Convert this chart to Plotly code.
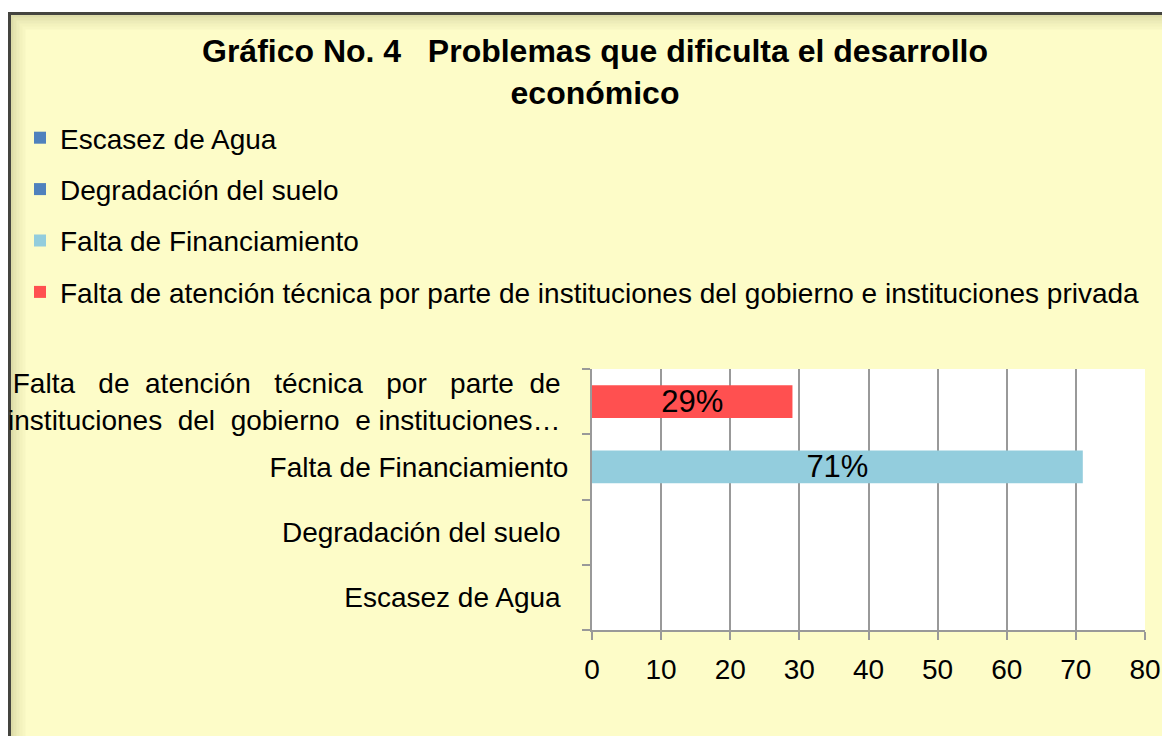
import plotly.graph_objects as go

categories = ["Escasez de Agua", "Degradación del suelo", "Falta de Financiamiento",
              "Falta de atención técnica por parte de instituciones del gobierno e instituciones privada"]
values = [0, 0, 71, 29]
colors = ["#4F81BD", "#4F81BD", "#93CDDD", "#FF5050"]
tick_labels = ["Escasez de Agua&nbsp;", "Degradación del suelo&nbsp;", "Falta de Financiamiento",
               "Falta&nbsp;&nbsp; de&nbsp; atención&nbsp;&nbsp; técnica&nbsp;&nbsp; por&nbsp;&nbsp; parte&nbsp; de&nbsp;<br>"
               "instituciones&nbsp; del&nbsp; gobierno&nbsp; e instituciones…&nbsp;"]
x_ticks = [0, 10, 20, 30, 40, 50, 60, 70, 80]

# the page body has an 8px margin; the figure is sized to fill the rest of the window
OFF = 8
W, H = 1170 - OFF, 736 - OFF
L, R, T, B = 592 - OFF, 25, 369 - OFF, 106
pw, ph = W - L - R, H - T - B

def px(x_page):
    return (x_page - OFF - L) / pw

def py(y_page):
    return (H - B - (y_page - OFF)) / ph

fig = go.Figure()
for cat, v, c in zip(categories, values, colors):
    fig.add_trace(go.Bar(
        y=[cat], x=[v], orientation="h", name=cat, marker_color=c,
        marker_line_width=0, width=0.5, legendgroup=cat,
        text=[f"{v}%" if v else ""], textposition="inside",
        insidetextanchor="middle", textangle=0,
        textfont=dict(size=31, color="black"), cliponaxis=False,
    ))

shapes = [
    dict(type="rect", xref="paper", yref="paper", x0=px(0), x1=px(1200), y0=py(0), y1=py(12),
         fillcolor="white", line_width=0, layer="below"),
]
# soft inner shading along top/left edges
for i, a in enumerate([0.22, 0.16, 0.11, 0.07, 0.04]):
    d = 3 + i * 3
    shapes.append(dict(type="rect", xref="paper", yref="paper", x0=px(9 + d), x1=px(1190),
                       y0=py(13 + d), y1=py(760), fillcolor="rgba(0,0,0,0)",
                       line=dict(color=f"rgba(110,110,60,{a})", width=3), layer="below"))
shapes.append(dict(type="rect", xref="paper", yref="paper", x0=px(9.5), x1=px(1190), y0=py(13.5), y1=py(760),
                   fillcolor="rgba(0,0,0,0)", line=dict(color="#44443f", width=3), layer="below"))

fig.update_layout(
    width=W, height=H,
    margin=dict(l=L, r=R, t=T, b=B, pad=0, autoexpand=False),
    paper_bgcolor="#FDFCC8", plot_bgcolor="white",
    font=dict(family="Liberation Sans, Arial, sans-serif", color="black"),
    title=dict(text="<b>Gráfico No. 4   Problemas que dificulta el desarrollo<br>económico</b>",
               x=(595 - OFF) / W, xanchor="center", xref="container", y=1 - 54 / H, yanchor="top",
               yref="container", font=dict(size=32, color="black")),
    barmode="relative",
    showlegend=True,
    legend=dict(x=12 / W, xanchor="left", xref="container", y=1 - 105 / H, yanchor="top",
                yref="container", traceorder="grouped", tracegroupgap=12, bgcolor="rgba(0,0,0,0)",
                font=dict(size=28), itemclick=False),
    uniformtext=dict(minsize=31, mode="show"),
    shapes=shapes,
)
fig.update_xaxes(range=[0, 80], tickvals=x_ticks, showgrid=True, gridcolor="#999999", gridwidth=1.5,
                 showline=True, linecolor="#999999", linewidth=2, ticks="outside", ticklen=8,
                 tickcolor="#999999", tickwidth=2, tickfont=dict(size=28), ticklabelstandoff=5,
                 zeroline=False, fixedrange=True, automargin=False)
fig.update_yaxes(categoryorder="array", categoryarray=categories, tickvals=categories, ticktext=tick_labels,
                 showgrid=False, showline=True, linecolor="#999999", linewidth=2, ticks="outside",
                 ticklen=8, tickcolor="#999999", tickwidth=2, tickson="boundaries",
                 tickfont=dict(size=28), ticklabelstandoff=16, fixedrange=True, automargin=False)

fig.write_html("out.html", config={"displayModeBar": False})
